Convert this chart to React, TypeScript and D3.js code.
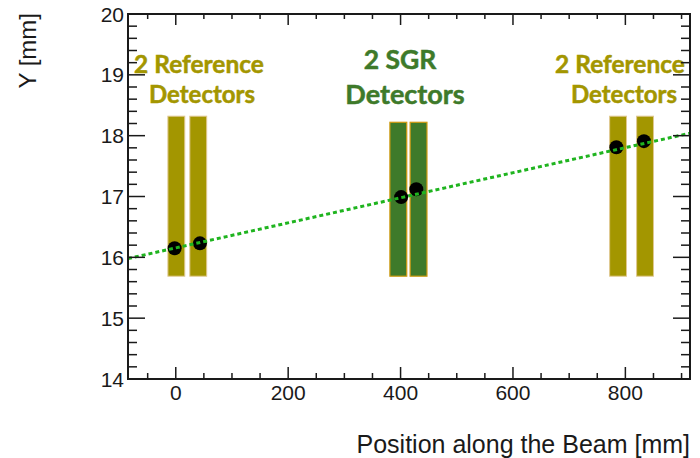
import React from "react";
import * as d3 from "d3";

// measured hits (x along beam, y position)
const pointX = [-2, 43, 401, 428, 784, 833];
const pointY = [16.15, 16.23, 16.99, 17.12, 17.81, 17.91];

// detector planes: left edge along the beam, width
const refStart = [-14, 25, 772, 820];
const sgrStart = [381, 417];
const detWidth = 30;
const refTop = 18.32;
const sgrTop = 18.22;
const detBottom = 15.69;

// straight line fit, end points
const fitX = [-85, 915];
const fitY = [15.98, 18.04];

const xMajor = [0, 200, 400, 600, 800];
const xMinor = d3.range(-50, 901, 50);
const yMajor = [14, 15, 16, 17, 18, 19, 20];
const yMinor = d3.range(14, 20.001, 0.2);

const W = 700, H = 458;
const margin = { top: 14, right: 10, bottom: 79, left: 128 };

export default function App() {
  const x = d3.scaleLinear().domain([-85, 915]).range([margin.left, W - margin.right]);
  const y = d3.scaleLinear().domain([14, 20]).range([H - margin.bottom, margin.top]);
  const x0 = x.range()[0], x1 = x.range()[1];
  const y0 = y.range()[0], y1 = y.range()[1];

  const line = d3.line<number>().x(d => x(fitX[d])).y(d => y(fitY[d]));
  const axisCol = "#1a1a1a";
  const olive = "#a39600";
  const green = "#3e7a2a";
  const labelFont = "Lato, 'Open Sans', sans-serif";

  return (
    <svg width={W} height={H} style={{ position: "absolute", left: 0, top: 0, background: "#fff" }}
      fontFamily="'Liberation Sans', Arial, sans-serif">
      {/* detectors */}
      {refStart.map((s, i) => (
        <rect key={"r" + i} x={x(s)} y={y(refTop)} width={x(s + detWidth) - x(s)} height={y(detBottom) - y(refTop)}
          fill={olive} stroke="#e0c890" strokeWidth={1} />
      ))}
      {sgrStart.map((s, i) => (
        <rect key={"s" + i} x={x(s)} y={y(sgrTop)} width={x(s + detWidth) - x(s)} height={y(detBottom) - y(sgrTop)}
          fill={green} stroke="#d09a10" strokeWidth={1.2} />
      ))}

      {/* points */}
      {pointX.map((px, i) => (
        <circle key={i} cx={x(px)} cy={y(pointY[i])} r={7} fill="#000" />
      ))}

      {/* fit line */}
      <path d={line([0, 1]) || ""} fill="none" stroke="#1fb41f" strokeWidth={3} strokeDasharray="4,3" />

      {/* labels */}
      <g fontFamily={labelFont} fontWeight={700} textAnchor="middle" strokeWidth={0.5}>
        <text x={199} y={73} fontSize={24.5} fill={olive} stroke={olive}>2 Reference</text>
        <text x={202} y={103} fontSize={24} fill={olive} stroke={olive}>Detectors</text>
        <text x={620} y={73} fontSize={24.5} fill={olive} stroke={olive}>2 Reference</text>
        <text x={624} y={103} fontSize={24} fill={olive} stroke={olive}>Detectors</text>
        <text x={400} y={69} fontSize={26.5} fill={green} stroke={green}>2 SGR</text>
        <text x={405} y={104} fontSize={27} fill={green} stroke={green}>Detectors</text>
      </g>

      {/* frame */}
      <rect x={x0} y={y1} width={x1 - x0} height={y0 - y1} fill="none" stroke={axisCol} strokeWidth={2} />

      {/* x ticks bottom and top */}
      {xMinor.map(t => {
        const major = xMajor.includes(t);
        return (
          <g key={"xt" + t}>
            <line x1={x(t)} x2={x(t)} y1={y0} y2={y0 - (major ? 12 : 6)} stroke={axisCol} strokeWidth={1.5} />
            <line x1={x(t)} x2={x(t)} y1={y1} y2={y1 + (major ? 11 : 5)} stroke={axisCol} strokeWidth={1.5} />
          </g>
        );
      })}
      {xMajor.map(t => (
        <text key={"xl" + t} x={x(t)} y={y0 + 21} fontSize={21} textAnchor="middle" fill={axisCol}>{t}</text>
      ))}

      {/* y ticks left and right */}
      {yMinor.map((t, i) => {
        const major = i % 5 === 0;
        return (
          <g key={"yt" + i}>
            <line x1={x0} x2={x0 + (major ? 17 : 9)} y1={y(t)} y2={y(t)} stroke={axisCol} strokeWidth={1.5} />
            <line x1={x1} x2={x1 - (major ? 17 : 9)} y1={y(t)} y2={y(t)} stroke={axisCol} strokeWidth={1.5} />
          </g>
        );
      })}
      {yMajor.map(t => (
        <text key={"yl" + t} x={x0 - 4} y={y(t) + 7.5} fontSize={21} textAnchor="end" fill={axisCol}>{t}</text>
      ))}

      {/* axis titles */}
      <text x={x1} y={453} fontSize={25} textAnchor="end" fill={axisCol}>Position along the Beam [mm]</text>
      <text transform={`translate(36,13) rotate(-90)`} fontSize={24} textAnchor="end" fill={axisCol}>Y [mm]</text>
    </svg>
  );
}
